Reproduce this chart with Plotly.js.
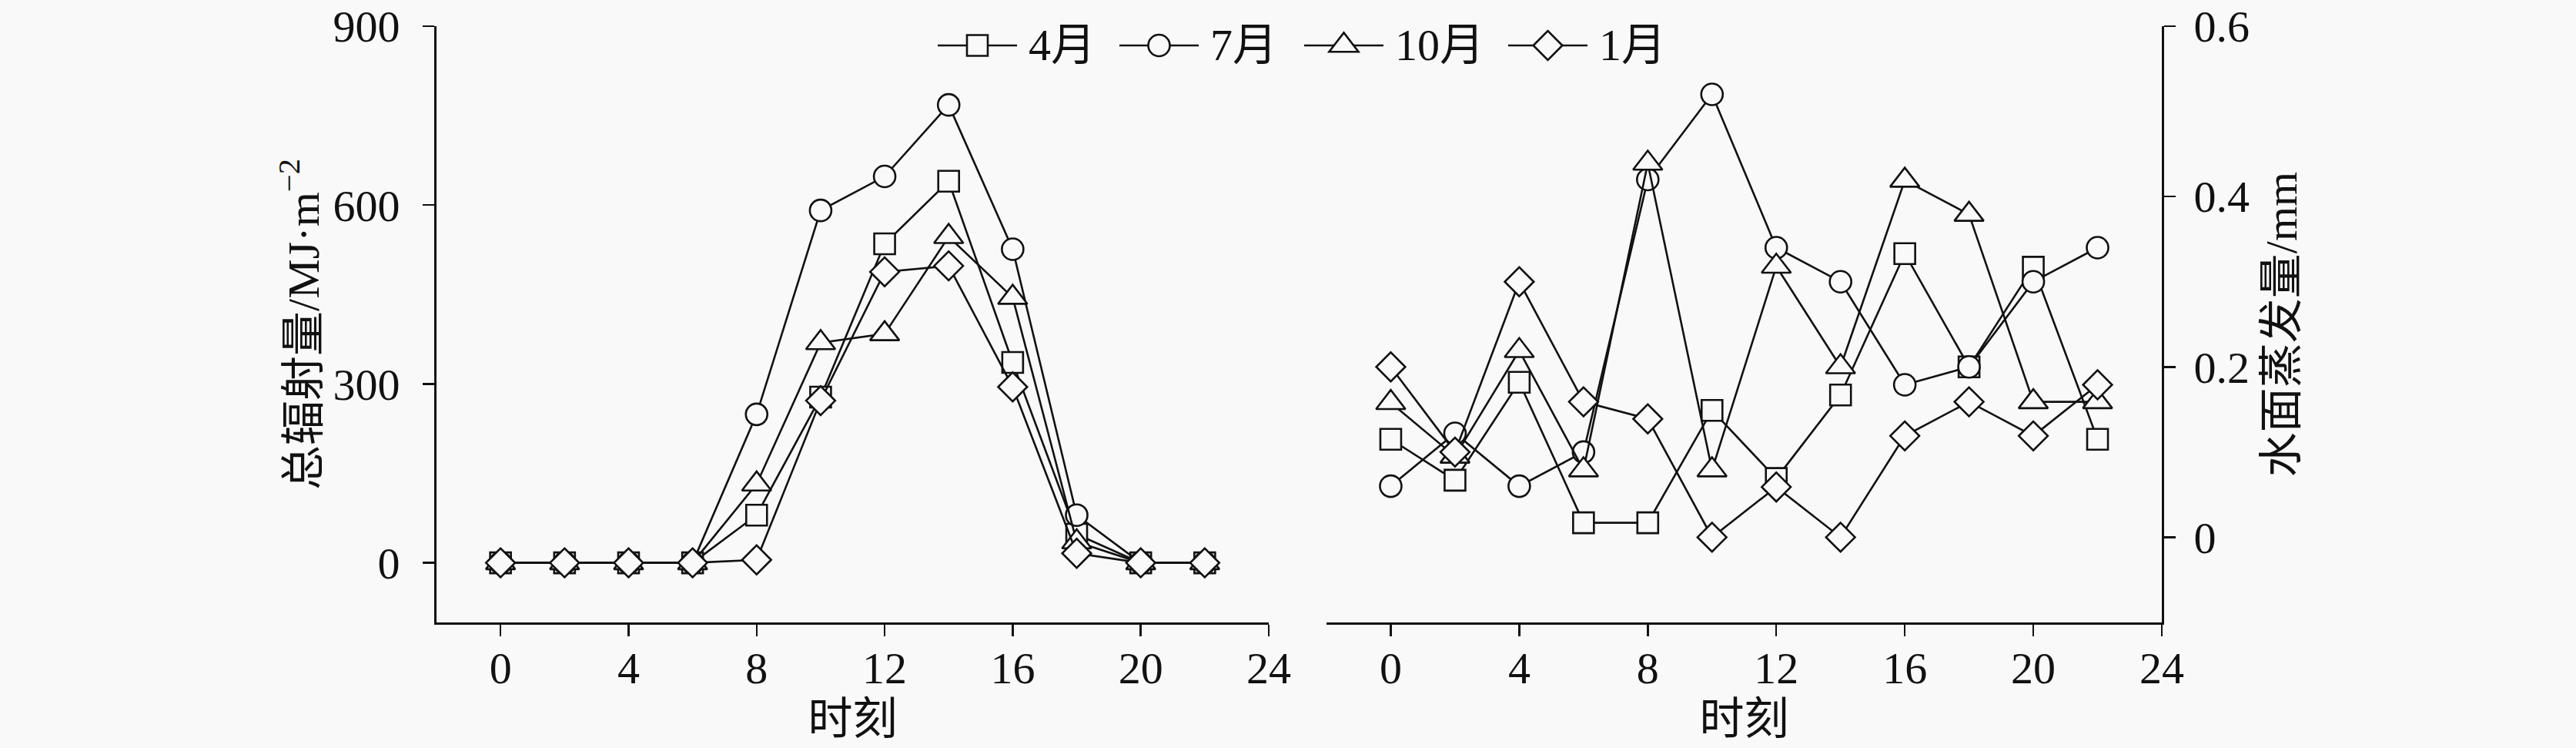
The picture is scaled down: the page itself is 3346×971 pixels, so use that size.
<!DOCTYPE html>
<html>
<head>
<meta charset="utf-8">
<script src="https://cdn.plot.ly/plotly-3.0.1.min.js"></script>
<style>
  html, body { margin: 0; padding: 0; background: #f9f9f9; }
  #chart { width: 3346px; height: 971px; }
</style>
</head>
<body>
<div id="chart"></div>
<script>
// ---------------- data ----------------
const hours = [0, 2, 4, 6, 8, 10, 12, 14, 16, 18, 20, 22];
const seriesNames = ['4月', '7月', '10月', '1月'];

// 总辐射量 (MJ·m^-2)
const radApr = [0, 0, 0, 0, 80, 278, 535, 640, 336, 48, 0, 0];
const radJul = [0, 0, 0, 0, 249, 591, 648, 768, 526, 80, 0, 0];
const radOct = [0, 0, 0, 0, 132, 369, 384, 547, 445, 35, 0, 0];
const radJan = [0, 0, 0, 0, 5, 272, 488, 498, 295, 16, 0, 0];

// 水面蒸发量 (mm)
const evaApr = [0.115, 0.067, 0.182, 0.017, 0.017, 0.149, 0.069, 0.167, 0.333, 0.200, 0.317, 0.115];
const evaJul = [0.060, 0.122, 0.060, 0.100, 0.420, 0.520, 0.340, 0.300, 0.179, 0.200, 0.300, 0.340];
const evaOct = [0.158, 0.095, 0.219, 0.079, 0.439, 0.079, 0.318, 0.200, 0.419, 0.379, 0.159, 0.159];
const evaJan = [0.200, 0.100, 0.300, 0.159, 0.139, 0.000, 0.059, 0.000, 0.119, 0.159, 0.119, 0.179];

const xTicks = [0, 4, 8, 12, 16, 20, 24];
const yLeftTicks = [0, 300, 600, 900];
const yRightTicks = [0, 0.2, 0.4, 0.6];
const yRightTickText = ['0', '0.2', '0.4', '0.6'];

// ---------------- style ----------------
const W = 3346, H = 971;
const M = { l: 567, r: 538, t: 34, b: 163 };
const BG = '#f9f9f9';
const INK = '#111111';
const FONT = '"Liberation Serif", "Times New Roman", "Noto Sans CJK SC", serif';
const FS = 58;

const symbols = ['square', 'circle', 'triangle-up', 'diamond'];
const sizes = [27, 28, 33, 29];

const radSeries = [radApr, radJul, radOct, radJan];
const evaSeries = [evaApr, evaJul, evaOct, evaJan];

const traces = [];
function mk(i, y, xa, ya) {
  return {
    type: 'scatter', mode: 'lines+markers',
    x: hours, y: y, name: seriesNames[i],
    xaxis: xa, yaxis: ya, showlegend: false,
    line: { color: INK, width: 2.6 },
    marker: { symbol: symbols[i], size: sizes[i], color: BG,
              line: { color: INK, width: 2.6 } },
    cliponaxis: false
  };
}
radSeries.forEach((s, i) => traces.push(mk(i, s, 'x', 'y')));
evaSeries.forEach((s, i) => traces.push(mk(i, s, 'x2', 'y2')));

// pixel -> paper helpers (for the legend block only)
const PW = W - M.l - M.r, PH = H - M.t - M.b;
const px = v => (v - M.l) / PW;
const py = v => (H - M.b - v) / PH;

// ---------------- manual legend ----------------
const legStarts = [1218, 1454, 1694, 1959];
const legY = 59, legLine = 103, legTextGap = 116;
const shapes = [];
const annotations = [];
legStarts.forEach((x0, i) => {
  const cx = x0 + legLine / 2;
  shapes.push({ type: 'line', xref: 'paper', yref: 'paper',
    x0: px(x0), x1: px(x0 + legLine), y0: py(legY), y1: py(legY),
    line: { color: INK, width: 2.6 } });
  const s = sizes[i];
  let path;
  if (symbols[i] === 'square') {
    const r = s / 2;
    path = `M${px(cx - r)},${py(legY - r)} L${px(cx + r)},${py(legY - r)} L${px(cx + r)},${py(legY + r)} L${px(cx - r)},${py(legY + r)} Z`;
    shapes.push({ type: 'path', xref: 'paper', yref: 'paper', path,
      fillcolor: BG, line: { color: INK, width: 2.6 } });
  } else if (symbols[i] === 'circle') {
    const r = s / 2;
    shapes.push({ type: 'circle', xref: 'paper', yref: 'paper',
      x0: px(cx - r), x1: px(cx + r), y0: py(legY + r), y1: py(legY - r),
      fillcolor: BG, line: { color: INK, width: 2.6 } });
  } else if (symbols[i] === 'triangle-up') {
    const r = s / 2, rt = r * 2 / Math.sqrt(3), r2 = r / 2;
    path = `M${px(cx - rt)},${py(legY + r2)} L${px(cx + rt)},${py(legY + r2)} L${px(cx)},${py(legY - r)} Z`;
    shapes.push({ type: 'path', xref: 'paper', yref: 'paper', path,
      fillcolor: BG, line: { color: INK, width: 2.6 } });
  } else {
    const rd = s / 2 * 1.3;
    path = `M${px(cx - rd)},${py(legY)} L${px(cx)},${py(legY - rd)} L${px(cx + rd)},${py(legY)} L${px(cx)},${py(legY + rd)} Z`;
    shapes.push({ type: 'path', xref: 'paper', yref: 'paper', path,
      fillcolor: BG, line: { color: INK, width: 2.6 } });
  }
  annotations.push({ xref: 'paper', yref: 'paper', x: px(x0 + legTextGap), y: py(legY),
    xanchor: 'left', yanchor: 'middle', showarrow: false, text: seriesNames[i],
    font: { family: FONT, size: FS, color: INK } });
});

// ---------------- layout ----------------
const axisCommon = {
  showline: true, linewidth: 3, linecolor: INK,
  showgrid: false, zeroline: false,
  ticks: 'outside', ticklen: 15, tickwidth: 2.5, tickcolor: INK,
  tickfont: { family: FONT, size: FS, color: INK },
  fixedrange: true
};

const layout = {
  width: W, height: H,
  margin: M,
  paper_bgcolor: BG, plot_bgcolor: BG,
  showlegend: false,
  font: { family: FONT, size: FS, color: INK },
  xaxis: Object.assign({}, axisCommon, {
    domain: [0, (1648 - M.l) / PW], range: [-2, 24], anchor: 'y',
    tickvals: xTicks, ticklabelstandoff: -9,
    title: { text: '时刻', font: { family: FONT, size: FS, color: INK }, standoff: 14 }
  }),
  yaxis: Object.assign({}, axisCommon, {
    domain: [0, 1], range: [-100, 900], anchor: 'x', side: 'left',
    tickvals: yLeftTicks, ticklabelstandoff: 18,
    title: { text: '总辐射量/MJ·m<sup>−2</sup>', font: { family: FONT, size: FS, color: INK }, standoff: 0 }
  }),
  xaxis2: Object.assign({}, axisCommon, {
    domain: [(1723 - M.l) / PW, 1], range: [-2, 24], anchor: 'y2',
    tickvals: xTicks, ticklabelstandoff: -9,
    title: { text: '时刻', font: { family: FONT, size: FS, color: INK }, standoff: 14 }
  }),
  yaxis2: Object.assign({}, axisCommon, {
    domain: [0, 1], range: [-0.1, 0.6], anchor: 'x2', side: 'right',
    tickvals: yRightTicks, ticktext: yRightTickText, ticklabelstandoff: 12,
    title: { text: '水面蒸发量/mm', font: { family: FONT, size: FS, color: INK }, standoff: 22 }
  }),
  shapes: shapes,
  annotations: annotations
};

Plotly.newPlot('chart', traces, layout, { staticPlot: true, displayModeBar: false });
</script>
</body>
</html>
